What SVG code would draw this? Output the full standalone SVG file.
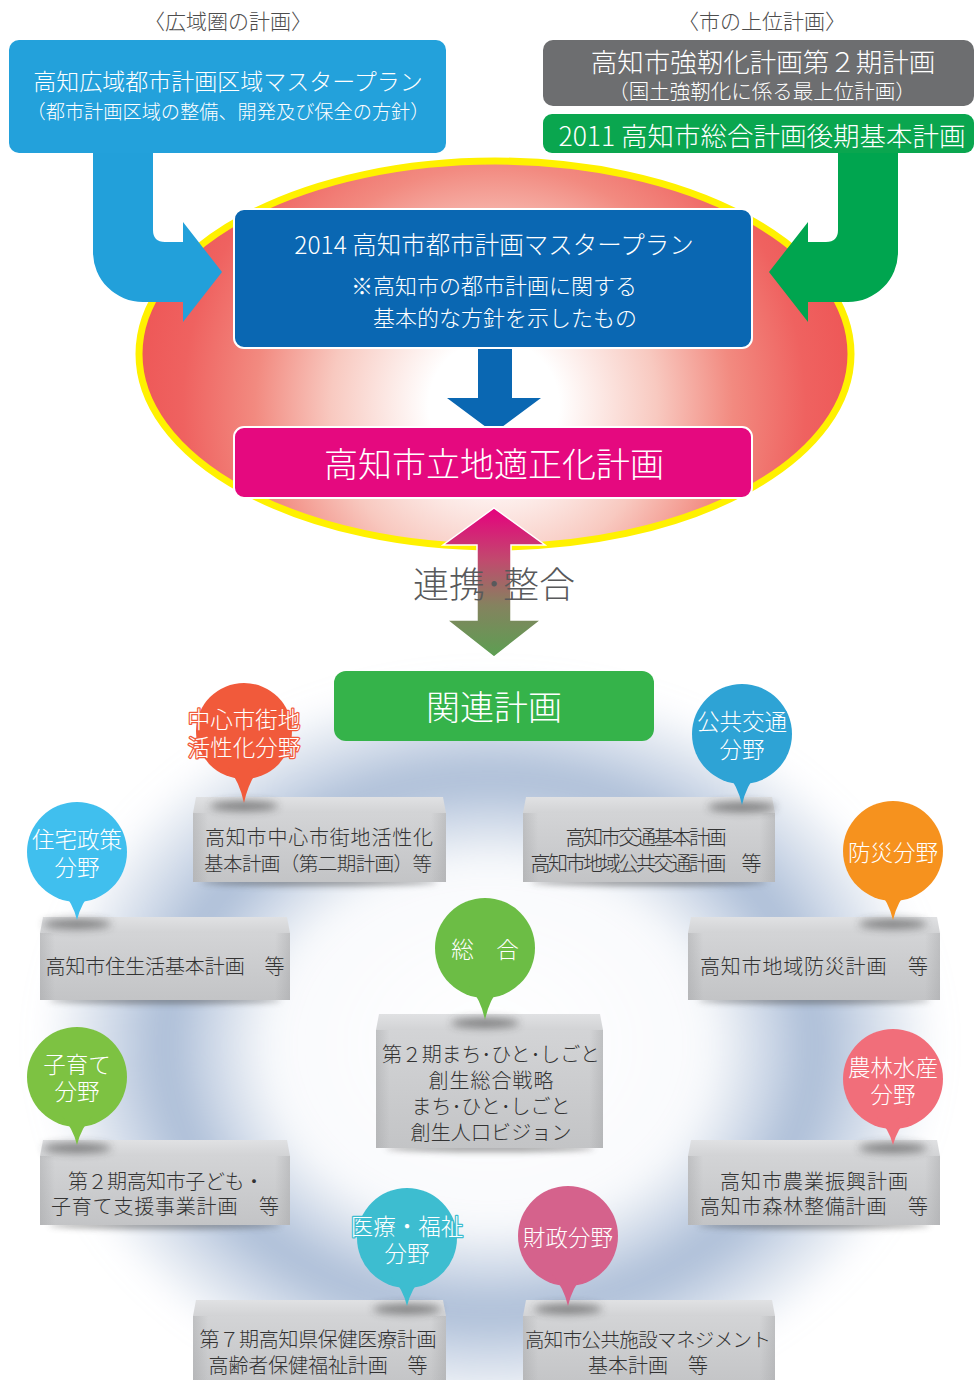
<svg xmlns="http://www.w3.org/2000/svg" width="976" height="1380" viewBox="0 0 976 1380">
<defs>
<style>
text { font-family: 'Noto Sans CJK JP','Noto Sans CJK SC',sans-serif; dominant-baseline: central; text-anchor: middle; font-weight:300; }
.w { fill:#ffffff; }
.lbl { fill:#4d4d4d; font-size:21px; }
.bt { fill:#333333; font-size:20px; }
.bb { fill:#ffffff; font-size:22.5px; stroke-width:2.5px; paint-order:stroke; stroke-linejoin:round; }
.face { fill:url(#front); }
.topf { fill:url(#topg); }
.side { fill:url(#sideg); }
.bsh { fill:#4a4a4a; opacity:0.5; filter:url(#blur3); }
.tsh { fill:#333333; opacity:0.55; filter:url(#blur4); }
</style>
<radialGradient id="ellg" gradientUnits="userSpaceOnUse" cx="494" cy="405" r="362">
<stop offset="0" stop-color="#ffffff"/>
<stop offset="0.18" stop-color="#ffffff"/>
<stop offset="0.45" stop-color="#f8c9c0"/>
<stop offset="0.66" stop-color="#f28a80"/>
<stop offset="0.86" stop-color="#ef6260"/>
<stop offset="1" stop-color="#ee5757"/>
</radialGradient>
<radialGradient id="ringg" cx="0.5" cy="0.5" r="0.5">
<stop offset="0" stop-color="#b3c3db" stop-opacity="0"/>
<stop offset="0.48" stop-color="#b3c3db" stop-opacity="0.08"/>
<stop offset="0.72" stop-color="#aabcd6" stop-opacity="1"/>
<stop offset="1" stop-color="#b3c3db" stop-opacity="0"/>
</radialGradient>
<linearGradient id="dblg" x1="0" y1="0" x2="0" y2="1">
<stop offset="0" stop-color="#e6007e"/>
<stop offset="0.35" stop-color="#c14a6e"/>
<stop offset="0.65" stop-color="#85825f"/>
<stop offset="1" stop-color="#5c9f52"/>
</linearGradient>
<linearGradient id="front" x1="0" y1="0" x2="0" y2="1">
<stop offset="0" stop-color="#d3d4d6"/>
<stop offset="1" stop-color="#c3c4c6"/>
</linearGradient>
<linearGradient id="topg" x1="0" y1="0" x2="0" y2="1">
<stop offset="0" stop-color="#e0e1e3"/>
<stop offset="1" stop-color="#d2d3d5"/>
</linearGradient>
<linearGradient id="sideg" x1="0" y1="0" x2="1" y2="0">
<stop offset="0" stop-color="#9a9b9d" stop-opacity="0.35"/>
<stop offset="0.06" stop-color="#9a9b9d" stop-opacity="0"/>
<stop offset="0.94" stop-color="#9a9b9d" stop-opacity="0"/>
<stop offset="1" stop-color="#9a9b9d" stop-opacity="0.35"/>
</linearGradient>
<filter id="blur3" x="-50%" y="-200%" width="200%" height="500%"><feGaussianBlur stdDeviation="3"/></filter>
<filter id="blur4" x="-50%" y="-200%" width="200%" height="500%"><feGaussianBlur stdDeviation="4"/></filter>
<filter id="blur12" x="-20%" y="-20%" width="140%" height="140%"><feGaussianBlur stdDeviation="14"/></filter>
</defs>

<rect x="0" y="0" width="976" height="1380" fill="#ffffff"/>

<g id="bgring">
<ellipse cx="490" cy="1045" rx="450" ry="370" fill="url(#ringg)" filter="url(#blur12)"/>
</g>

<g id="ellipse">
<ellipse cx="495" cy="354" rx="356" ry="193" fill="url(#ellg)" stroke="#fff100" stroke-width="7"/>
</g>

<g id="label-left"><text class="lbl" x="228" y="20">〈広域圏の計画〉</text></g>
<g id="label-right"><text class="lbl" x="762" y="20">〈市の上位計画〉</text></g>

<g id="connectors">
<path d="M93,153 H153 V230 Q153,242 165,242 H183 V222 L222,272 L183,322 V302 H143 A50,50 0 0 1 93,252 Z" fill="#22a0da"/>
<path d="M898,153 H838 V230 Q838,242 826,242 H808 V222 L769,272 L808,322 V302 H848 A50,50 0 0 0 898,252 Z" fill="#00a54f"/>
<path d="M478,346 H512 V398 H541 L494,433 L447,398 H478 Z" fill="#0a67b2"/>
<path d="M494,508 L545,545 H511 V620 H541 L494,657 L447,620 H477 V545 H443 Z" fill="url(#dblg)" stroke="#ffffff" stroke-width="1.5"/>
<text x="494" y="582" fill="#58595b" font-size="36">連携･整合</text>
</g>

<g id="node-kouiki">
<rect x="9" y="40" width="437" height="113" rx="10" fill="#23a1db"/>
<text class="w"><tspan x="228" y="80" font-size="23">高知広域都市計画区域マスタープラン</tspan><tspan x="228" y="111" font-size="19.2">（都市計画区域の整備、開発及び保全の方針）</tspan></text>
</g>
<g id="node-kyojinka">
<rect x="543" y="40" width="431" height="66" rx="10" fill="#6d6e70"/>
<text class="w"><tspan x="763" y="60" font-size="26.5">高知市強靭化計画第２期計画</tspan><tspan x="762" y="90" font-size="20.5">（国土強靭化に係る最上位計画）</tspan></text>
</g>
<g id="node-sogo">
<rect x="543" y="114" width="431" height="39" rx="9" fill="#0aa64f"/>
<text class="w" x="762" y="134" font-size="26.5">2011 高知市総合計画後期基本計画</text>
</g>

<g id="node-masterplan">
<rect x="234" y="209" width="518" height="139" rx="10" fill="#0a67b2" stroke="#ffffff" stroke-width="2"/>
<text class="w"><tspan x="494" y="243" font-size="24.5">2014 高知市都市計画マスタープラン</tspan><tspan x="494" y="284" font-size="22">※高知市の都市計画に関する</tspan><tspan x="505" y="316" font-size="22">基本的な方針を示したもの</tspan></text>
</g>

<g id="node-ritchi">
<rect x="234" y="427" width="518" height="71" rx="10" fill="#e5097f" stroke="#ffffff" stroke-width="2"/>
<text class="w" x="494" y="462" font-size="34">高知市立地適正化計画</text>
</g>

<g id="node-kanren">
<rect x="334" y="671" width="320" height="70" rx="12" fill="#35b34a"/>
<text class="w" x="494" y="705" font-size="34">関連計画</text>
</g>

<g id="box-chushin">
<ellipse class="bsh" cx="319" cy="882" rx="118" ry="4"/>
<rect class="face" x="193" y="813" width="253" height="69"/>
<rect class="side" x="193" y="813" width="253" height="69"/>
<polygon class="topf" points="196,797 443,797 446,813 193,813"/>
<ellipse class="tsh" cx="244" cy="806" rx="34" ry="5"/>
<text class="bt"><tspan x="319" y="836" textLength="228" lengthAdjust="spacing">高知市中心市街地活性化</tspan><tspan x="318" y="862" font-size="19.5" textLength="228" lengthAdjust="spacing">基本計画（第二期計画）等</tspan></text>
</g>
<g id="box-kotsu">
<ellipse class="bsh" cx="649" cy="882" rx="118" ry="4"/>
<rect class="face" x="523" y="813" width="252" height="69"/>
<rect class="side" x="523" y="813" width="252" height="69"/>
<polygon class="topf" points="526,797 772,797 775,813 523,813"/>
<ellipse class="tsh" cx="742" cy="807" rx="34" ry="5"/>
<text class="bt" font-size="18"><tspan x="646" y="836" textLength="161" lengthAdjust="spacing">高知市交通基本計画</tspan><tspan x="646" y="862" textLength="231" lengthAdjust="spacing">高知市地域公共交通計画　等</tspan></text>
</g>
<g id="box-jutaku">
<ellipse class="bsh" cx="165" cy="1000" rx="116" ry="4"/>
<rect class="face" x="40" y="933" width="250" height="67"/>
<rect class="side" x="40" y="933" width="250" height="67"/>
<polygon class="topf" points="43,917 287,917 290,933 40,933"/>
<ellipse class="tsh" cx="77" cy="924" rx="34" ry="5"/>
<text class="bt" x="165" y="965" textLength="239" lengthAdjust="spacing">高知市住生活基本計画　等</text>
</g>
<g id="box-bosai">
<ellipse class="bsh" cx="814" cy="1000" rx="116" ry="4"/>
<rect class="face" x="688" y="933" width="252" height="67"/>
<rect class="side" x="688" y="933" width="252" height="67"/>
<polygon class="topf" points="691,917 937,917 940,933 688,933"/>
<ellipse class="tsh" cx="893" cy="924" rx="34" ry="5"/>
<text class="bt" x="814" y="965" textLength="228" lengthAdjust="spacing">高知市地域防災計画　等</text>
</g>
<g id="box-sogo">
<ellipse class="bsh" cx="490" cy="1148" rx="104" ry="4"/>
<rect class="face" x="376" y="1030" width="227" height="118"/>
<rect class="side" x="376" y="1030" width="227" height="118"/>
<polygon class="topf" points="379,1014 600,1014 603,1030 376,1030"/>
<ellipse class="tsh" cx="485" cy="1023" rx="34" ry="5"/>
<text class="bt"><tspan x="491" y="1053" textLength="218" lengthAdjust="spacing">第２期まち･ひと･しごと</tspan><tspan x="491" y="1079" textLength="125" lengthAdjust="spacing">創生総合戦略</tspan><tspan x="491" y="1105" textLength="159" lengthAdjust="spacing">まち･ひと･しごと</tspan><tspan x="491" y="1131" textLength="161" lengthAdjust="spacing">創生人口ビジョン</tspan></text>
</g>
<g id="box-kosodate">
<ellipse class="bsh" cx="165" cy="1225" rx="116" ry="4"/>
<rect class="face" x="40" y="1156" width="250" height="69"/>
<rect class="side" x="40" y="1156" width="250" height="69"/>
<polygon class="topf" points="43,1140 287,1140 290,1156 40,1156"/>
<ellipse class="tsh" cx="77" cy="1148" rx="34" ry="5"/>
<text class="bt"><tspan x="166" y="1180" textLength="196" lengthAdjust="spacing">第２期高知市子ども・</tspan><tspan x="165" y="1205" textLength="228" lengthAdjust="spacing">子育て支援事業計画　等</tspan></text>
</g>
<g id="box-norin">
<ellipse class="bsh" cx="814" cy="1225" rx="116" ry="4"/>
<rect class="face" x="688" y="1156" width="252" height="69"/>
<rect class="side" x="688" y="1156" width="252" height="69"/>
<polygon class="topf" points="691,1140 937,1140 940,1156 688,1156"/>
<ellipse class="tsh" cx="893" cy="1148" rx="34" ry="5"/>
<text class="bt"><tspan x="814" y="1180" textLength="188" lengthAdjust="spacing">高知市農業振興計画</tspan><tspan x="814" y="1205" textLength="228" lengthAdjust="spacing">高知市森林整備計画　等</tspan></text>
</g>
<g id="box-iryo">
<rect class="face" x="193" y="1316" width="253" height="70"/>
<rect class="side" x="193" y="1316" width="253" height="70"/>
<polygon class="topf" points="196,1300 443,1300 446,1316 193,1316"/>
<ellipse class="tsh" cx="407" cy="1309" rx="34" ry="5"/>
<text class="bt"><tspan x="318" y="1338" textLength="237" lengthAdjust="spacing">第７期高知県保健医療計画</tspan><tspan x="318" y="1364" textLength="219" lengthAdjust="spacing">高齢者保健福祉計画　等</tspan></text>
</g>
<g id="box-zaisei">
<rect class="face" x="523" y="1316" width="252" height="70"/>
<rect class="side" x="523" y="1316" width="252" height="70"/>
<polygon class="topf" points="526,1300 772,1300 775,1316 523,1316"/>
<ellipse class="tsh" cx="568" cy="1309" rx="34" ry="5"/>
<text class="bt"><tspan x="648" y="1338" font-size="19.5" textLength="246" lengthAdjust="spacing">高知市公共施設マネジメント</tspan><tspan x="648" y="1364" textLength="120" lengthAdjust="spacing">基本計画　等</tspan></text>
</g>

<g id="bubble-chushin">
<circle cx="244" cy="731" r="48" fill="#f15a3b"/>
<path d="M228,767 Q240,783 244,803 Q248,783 260,767 Z" fill="#f15a3b"/>
<text class="bb" stroke="#f15a3b"><tspan x="244" y="718">中心市街地</tspan><tspan x="244" y="746">活性化分野</tspan></text>
</g>
<g id="bubble-kotsu">
<circle cx="742" cy="734" r="50" fill="#2ea3d5"/>
<path d="M726,772 Q738,786 742,805 Q746,786 758,772 Z" fill="#2ea3d5"/>
<text class="bb" stroke="#2ea3d5"><tspan x="742" y="720">公共交通</tspan><tspan x="742" y="748">分野</tspan></text>
</g>
<g id="bubble-jutaku">
<circle cx="77" cy="852" r="50" fill="#40bfee"/>
<path d="M61,890 Q73,903 77,920 Q81,903 93,890 Z" fill="#40bfee"/>
<text class="bb" stroke="#40bfee"><tspan x="77" y="838">住宅政策</tspan><tspan x="77" y="866">分野</tspan></text>
</g>
<g id="bubble-bosai">
<circle cx="893" cy="851" r="50" fill="#f6921e"/>
<path d="M877,889 Q889,902 893,920 Q897,902 909,889 Z" fill="#f6921e"/>
<text class="bb" x="893" y="851" stroke="#f6921e">防災分野</text>
</g>
<g id="bubble-sogo">
<circle cx="485" cy="948" r="50" fill="#6cbd45"/>
<path d="M469,986 Q481,1000 485,1020 Q489,1000 501,986 Z" fill="#6cbd45"/>
<text class="bb" x="485" y="948" stroke="#6cbd45">総　合</text>
</g>
<g id="bubble-kosodate">
<circle cx="77" cy="1077" r="50" fill="#7dc242"/>
<path d="M61,1115 Q73,1128 77,1145 Q81,1128 93,1115 Z" fill="#7dc242"/>
<text class="bb" stroke="#7dc242"><tspan x="77" y="1063">子育て</tspan><tspan x="77" y="1090">分野</tspan></text>
</g>
<g id="bubble-norin">
<circle cx="893" cy="1079" r="50" fill="#f16e7a"/>
<path d="M877,1117 Q889,1129 893,1145 Q897,1129 909,1117 Z" fill="#f16e7a"/>
<text class="bb" stroke="#f16e7a"><tspan x="893" y="1066">農林水産</tspan><tspan x="893" y="1093">分野</tspan></text>
</g>
<g id="bubble-iryo">
<circle cx="407" cy="1238" r="50" fill="#3dbdd0"/>
<path d="M391,1276 Q403,1289 407,1306 Q411,1289 423,1276 Z" fill="#3dbdd0"/>
<text class="bb" stroke="#3dbdd0"><tspan x="407" y="1225">医療・福祉</tspan><tspan x="407" y="1252">分野</tspan></text>
</g>
<g id="bubble-zaisei">
<circle cx="568" cy="1236" r="50" fill="#d5628c"/>
<path d="M552,1274 Q564,1288 568,1306 Q572,1288 584,1274 Z" fill="#d5628c"/>
<text class="bb" x="568" y="1236" stroke="#d5628c">財政分野</text>
</g>
</svg>
